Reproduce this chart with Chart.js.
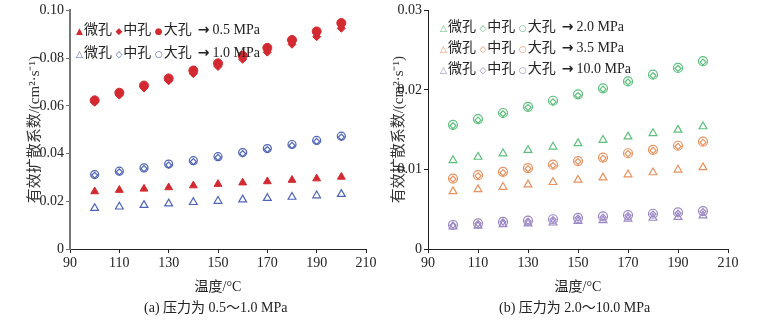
<!DOCTYPE html>
<html>
<head>
<meta charset="utf-8">
<script src="https://cdn.jsdelivr.net/npm/chart.js@4"></script>
<style>
  body { margin: 0; background: #fff; width: 783px; height: 322px; position: relative; overflow: hidden;
         font-family: "Liberation Serif", "Noto Sans CJK SC", serif; }
  .panel { position: absolute; top: 0; height: 300px; }
  .legend { position: absolute; font-size: 14px; line-height: 20px; color: #222; white-space: nowrap; }
  .legend span.s { font-family: "DejaVu Sans"; font-size: 9px; margin-right: 1px; }
  .legend span.arr { font-family: "DejaVu Sans"; font-weight: bold; margin: 0 3px 0 6px; }
  .caption { position: absolute; top: 296px; font-size: 14px; color: #222; }
</style>
</head>
<body>
<div class="panel" style="left:0;width:390px"><canvas id="chartA" width="390" height="300"></canvas></div>
<div class="panel" style="left:390px;width:393px"><canvas id="chartB" width="393" height="300"></canvas></div>

<div class="legend" style="left:76px;top:19px">
  <div><span class="s" style="color:#d22a30">▲</span>微孔 <span class="s" style="color:#d22a30">◆</span>中孔 <span class="s" style="color:#d22a30">●</span>大孔<span class="arr">→</span>0.5 MPa</div>
  <div style="margin-top:1px"><span class="s" style="color:#4d64b5">△</span>微孔 <span class="s" style="color:#4d64b5">◇</span>中孔 <span class="s" style="color:#4d64b5">○</span>大孔<span class="arr">→</span>1.0 MPa</div>
</div>
<div class="legend" style="left:440px;top:17px;line-height:19px">
  <div><span class="s" style="color:#5cbf7c">△</span>微孔 <span class="s" style="color:#5cbf7c">◇</span>中孔 <span class="s" style="color:#5cbf7c">○</span>大孔<span class="arr">→</span>2.0 MPa</div>
  <div><span class="s" style="color:#e8915e">△</span>微孔 <span class="s" style="color:#e8915e">◇</span>中孔 <span class="s" style="color:#e8915e">○</span>大孔<span class="arr">→</span>3.5 MPa</div>
  <div><span class="s" style="color:#9a86c4">△</span>微孔 <span class="s" style="color:#9a86c4">◇</span>中孔 <span class="s" style="color:#9a86c4">○</span>大孔<span class="arr">→</span>10.0 MPa</div>
</div>

<div class="caption" style="left:144px">(a) 压力为 0.5～1.0 MPa</div>
<div class="caption" style="left:499px">(b) 压力为 2.0～10.0 MPa</div>

<script>
const temps = [100, 110, 120, 130, 140, 150, 160, 170, 180, 190, 200];

// (a) 0.5 / 1.0 MPa
const micro05 = [0.0241, 0.0247, 0.0252, 0.0258, 0.0266, 0.0272, 0.0278, 0.0283, 0.0289, 0.0295, 0.0302];
const meso05  = [0.0615, 0.0645, 0.0675, 0.0705, 0.0735, 0.0765, 0.0795, 0.0825, 0.0858, 0.0890, 0.0925];
const macro05 = [0.0623, 0.0655, 0.0685, 0.0715, 0.0748, 0.0778, 0.0810, 0.0843, 0.0876, 0.0912, 0.0947];
const micro10 = [0.0171, 0.0177, 0.0184, 0.0190, 0.0196, 0.0201, 0.0207, 0.0213, 0.0218, 0.0224, 0.0230];
const meso10  = [0.0309, 0.0323, 0.0337, 0.0352, 0.0366, 0.0384, 0.0400, 0.0417, 0.0434, 0.0451, 0.0469];
const macro10 = [0.0312, 0.0326, 0.0340, 0.0356, 0.0370, 0.0387, 0.0404, 0.0421, 0.0438, 0.0455, 0.0473];

// (b) 2.0 / 3.5 / 10.0 MPa
const micro20  = [0.01115, 0.01157, 0.0120, 0.01243, 0.01285, 0.01328, 0.0137, 0.01413, 0.01455, 0.01498, 0.0154];
const meso20   = [0.0155, 0.0162, 0.0170, 0.0178, 0.0185, 0.0193, 0.0201, 0.0210, 0.0218, 0.0227, 0.0235];
const macro20  = [0.01561, 0.01634, 0.0171, 0.01787, 0.01864, 0.01945, 0.0202, 0.02107, 0.02192, 0.02277, 0.02362];
const micro35  = [0.00724, 0.0075, 0.00779, 0.00809, 0.00839, 0.00868, 0.00898, 0.00936, 0.00962, 0.00996, 0.01026];
const meso35   = [0.0088, 0.0092, 0.0096, 0.0101, 0.0105, 0.0110, 0.0114, 0.0120, 0.0124, 0.0129, 0.0134];
const macro35  = [0.00885, 0.00928, 0.0097, 0.01017, 0.0106, 0.01106, 0.01149, 0.01204, 0.01247, 0.01298, 0.0135];
const micro100 = [0.0028, 0.0029, 0.0031, 0.0032, 0.0033, 0.0035, 0.0036, 0.0038, 0.0039, 0.0040, 0.0042];
const meso100  = [0.0030, 0.0032, 0.0034, 0.0035, 0.0037, 0.0039, 0.0040, 0.0042, 0.0044, 0.0045, 0.0047];
const macro100 = [0.00302, 0.00323, 0.0034, 0.00357, 0.00374, 0.00391, 0.00409, 0.00426, 0.00443, 0.0046, 0.00477];

const FONT = "'Liberation Serif', 'Noto Sans CJK SC', serif";

function pts(vals) {
  return temps.map((t, i) => ({x: t, y: vals[i]}));
}

function ds(vals, style, color, filled, r) {
  return {
    data: pts(vals),
    pointStyle: style,
    pointRadius: r,
    borderColor: color,
    backgroundColor: filled ? color : "rgba(0,0,0,0)",
    borderWidth: filled ? 1 : 1.2,
    showLine: false
  };
}

function makeChart(id, datasets, yMax, yStep, padLeft, yWidth, padRight, axisColor) {
  return new Chart(document.getElementById(id), {
    type: "scatter",
    data: { datasets: datasets },
    options: {
      responsive: false,
      animation: false,
      layout: { padding: { top: 8, right: padRight, left: padLeft, bottom: 0 } },
      plugins: { legend: { display: false }, tooltip: { enabled: false } },
      scales: {
        x: {
          type: "linear", min: 90, max: 210,
          ticks: { stepSize: 20, color: "#222", font: { family: FONT, size: 14 }, padding: 2 },
          grid: { display: true, drawOnChartArea: false, tickLength: 4, color: "#222" },
          border: { color: "#222", width: 1 },
          title: { display: true, text: "温度/°C", color: "#222", font: { family: FONT, size: 14 }, padding: { top: 8 } },
          afterFit: s => { s.height = 51; }
        },
        y: {
          min: 0, max: yMax,
          ticks: {
            stepSize: yStep, color: "#222", font: { family: FONT, size: 14 }, padding: 2,
            callback: v => v === 0 ? "0" : v.toFixed(2)
          },
          grid: { display: true, drawOnChartArea: false, tickLength: 4, color: axisColor },
          border: { color: axisColor, width: axisColor === "#777" ? 2 : 1 },
          title: { display: true, text: "有效扩散系数/(cm²·s⁻¹)", color: "#333", font: { family: FONT, size: 15 }, padding: 0 },
          afterFit: s => { s.width = yWidth; }
        }
      }
    }
  });
}

const RED = "#d22a30", BLUE = "#4d64b5", GREEN = "#5cbf7c", ORANGE = "#e8915e", PURPLE = "#9a86c4";

makeChart("chartA", [
  ds(micro05, "triangle", RED, true, 4.5),
  ds(meso05, "rectRot", RED, true, 4),
  ds(macro05, "circle", RED, true, 4.5),
  ds(micro10, "triangle", BLUE, false, 4.5),
  ds(meso10, "rectRot", BLUE, false, 3),
  ds(macro10, "circle", BLUE, false, 4)
], 0.10, 0.02, 26, 44, 24, "#777");

makeChart("chartB", [
  ds(micro20, "triangle", GREEN, false, 4.5),
  ds(meso20, "rectRot", GREEN, false, 3),
  ds(macro20, "circle", GREEN, false, 4.5),
  ds(micro35, "triangle", ORANGE, false, 4.5),
  ds(meso35, "rectRot", ORANGE, false, 3),
  ds(macro35, "circle", ORANGE, false, 4.5),
  ds(micro100, "triangle", PURPLE, false, 4.5),
  ds(meso100, "rectRot", PURPLE, false, 3),
  ds(macro100, "circle", PURPLE, false, 4.5)
], 0.03, 0.01, 0, 38, 55, "#222");
</script>
</body>
</html>
